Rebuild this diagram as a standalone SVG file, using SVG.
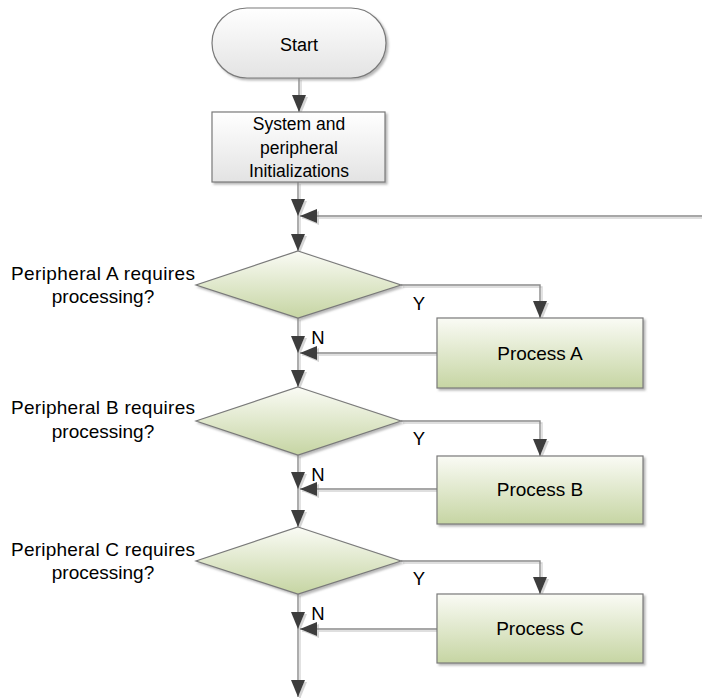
<svg xmlns="http://www.w3.org/2000/svg" width="702" height="698" viewBox="0 0 702 698">
<defs>
<linearGradient id="gGreen" x1="0" y1="0" x2="0" y2="1">
<stop offset="0" stop-color="#fafbf5"/>
<stop offset="1" stop-color="#c6d5a3"/>
</linearGradient>
<linearGradient id="gGray" x1="0" y1="0" x2="0" y2="1">
<stop offset="0" stop-color="#ffffff"/>
<stop offset="1" stop-color="#e3e3e3"/>
</linearGradient>
<filter id="sh" x="-10%" y="-10%" width="130%" height="130%">
<feDropShadow dx="2" dy="2" stdDeviation="1" flood-color="#888" flood-opacity="0.6"/>
</filter>
<filter id="lsh" x="-5%" y="-5%" width="110%" height="110%">
<feDropShadow dx="2" dy="2" stdDeviation="0.6" flood-color="#aaa" flood-opacity="0.5"/>
</filter>
<marker id="ah" viewBox="0 0 17 14" refX="17" refY="7" markerWidth="17" markerHeight="14" markerUnits="userSpaceOnUse" orient="auto">
<path d="M0,0 L17,7 L0,14 z" fill="#3c3c3c"/>
</marker>
</defs>
<style>
.node{stroke:#7a7a7a;stroke-width:1.2;filter:url(#sh)}
.green{fill:url(#gGreen)}
.gray{fill:url(#gGray)}
.t{font-family:"Liberation Sans",Arial,sans-serif;fill:#000}
.c{stroke:#8a8a8a;stroke-width:1.4;fill:none;marker-end:url(#ah)}
</style>
<g id="connectors" filter="url(#lsh)">
<line class="c" x1="299" y1="78" x2="299" y2="112"/>
<line class="c" x1="298" y1="182" x2="298" y2="216"/>
<line class="c" x1="702" y1="216" x2="300" y2="216"/>
<line class="c" x1="298" y1="216" x2="298" y2="251"/>
<polyline class="c" points="401,285 540,285 540,318"/>
<line class="c" x1="298" y1="318" x2="298" y2="353"/>
<line class="c" x1="437" y1="353" x2="300" y2="353"/>
<line class="c" x1="298" y1="353" x2="298" y2="387"/>
<polyline class="c" points="401,421 540,421 540,456"/>
<line class="c" x1="298" y1="455" x2="298" y2="489"/>
<line class="c" x1="437" y1="489" x2="300" y2="489"/>
<line class="c" x1="298" y1="489" x2="298" y2="527"/>
<polyline class="c" points="401,561 540,561 540,594"/>
<line class="c" x1="298" y1="594" x2="298" y2="629"/>
<line class="c" x1="437" y1="629" x2="300" y2="629"/>
<line class="c" x1="298" y1="629" x2="298" y2="697"/>
</g>
<g id="start">
<rect class="node gray" x="212" y="8" width="174" height="70" rx="35" ry="35"/>
<text class="t" x="299" y="51" font-size="18" text-anchor="middle">Start</text>
</g>
<g id="init">
<rect class="node gray" x="212" y="112" width="173" height="70"/>
<text class="t" x="299" y="130" font-size="17.5" text-anchor="middle">System and</text>
<text class="t" x="299" y="154" font-size="17.5" text-anchor="middle">peripheral</text>
<text class="t" x="299" y="177" font-size="17.5" text-anchor="middle">Initializations</text>
</g>
<g id="decA">
<polygon class="node green" points="298,251 401,285 298,318 196,285"/>
<text class="t" x="103" y="280" font-size="19" text-anchor="middle" textLength="184" lengthAdjust="spacing">Peripheral A requires</text>
<text class="t" x="103" y="303" font-size="19" text-anchor="middle">processing?</text>
<text class="t" x="419" y="310" font-size="18.5" text-anchor="middle">Y</text>
<text class="t" x="318" y="344" font-size="18.5" text-anchor="middle">N</text>
</g>
<g id="procA">
<rect class="node green" x="437" y="318" width="206" height="70"/>
<text class="t" x="540" y="360" font-size="19" text-anchor="middle">Process A</text>
</g>
<g id="decB">
<polygon class="node green" points="298,387 401,421 298,455 196,421"/>
<text class="t" x="103" y="414" font-size="19" text-anchor="middle" textLength="184" lengthAdjust="spacing">Peripheral B requires</text>
<text class="t" x="103" y="438" font-size="19" text-anchor="middle">processing?</text>
<text class="t" x="419" y="445" font-size="18.5" text-anchor="middle">Y</text>
<text class="t" x="318" y="481" font-size="18.5" text-anchor="middle">N</text>
</g>
<g id="procB">
<rect class="node green" x="437" y="456" width="206" height="68"/>
<text class="t" x="540" y="496" font-size="19" text-anchor="middle">Process B</text>
</g>
<g id="decC">
<polygon class="node green" points="298,527 401,561 298,594 196,561"/>
<text class="t" x="103" y="556" font-size="19" text-anchor="middle" textLength="184" lengthAdjust="spacing">Peripheral C requires</text>
<text class="t" x="103" y="579" font-size="19" text-anchor="middle">processing?</text>
<text class="t" x="419" y="585" font-size="18.5" text-anchor="middle">Y</text>
<text class="t" x="318" y="620" font-size="18.5" text-anchor="middle">N</text>
</g>
<g id="procC">
<rect class="node green" x="437" y="594" width="206" height="69"/>
<text class="t" x="540" y="635" font-size="19" text-anchor="middle">Process C</text>
</g>
</svg>
